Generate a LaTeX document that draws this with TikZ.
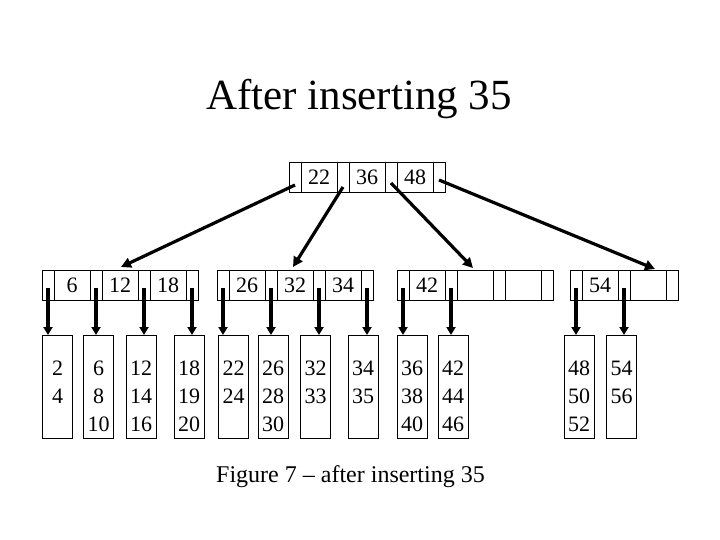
\documentclass[tikz,border=0pt]{standalone}
\usepackage{fontspec}
\setmainfont{Liberation Serif}
\usetikzlibrary{arrows.meta,calc}
\tikzset{
  ptrcell/.style={draw, line width=0.9pt, minimum width=12pt, minimum height=30pt, inner sep=0pt, outer sep=0pt},
  keycell/.style={draw, line width=0.9pt, minimum width=36pt, minimum height=30pt, inner sep=0pt, outer sep=0pt, font=\fontsize{22}{26}\selectfont},
  leafbox/.style={draw, line width=0.9pt, minimum width=30pt, minimum height=103pt, inner sep=0pt, outer sep=0pt},
  leaftext/.style={align=center, inner sep=0pt, anchor=north, font=\fontsize{22}{27.8}\selectfont},
  treearrow/.style={line width=3.2pt, -{Triangle[length=10pt,width=10pt]}},
  downarrow/.style={line width=3.5pt, -{Triangle[length=8pt,width=9pt]}},
}
\newcommand\btreenode[4]{%
  \foreach \cellkey [count=\cellidx] in {#4} {
    \node[ptrcell] (#1p\cellidx) at ({#2+(\cellidx-1)*48+6}, #3) {};
    \node[keycell] (#1k\cellidx) at ({#2+(\cellidx-1)*48+30}, #3) {\cellkey};
    \pgfmathtruncatemacro\nextidx{\cellidx+1}
    \node[ptrcell] (#1p\nextidx) at ({#2+\cellidx*48+6}, #3) {};
  }%
}
\newcommand\btleaf[3]{%
  \node[leafbox] (#1) at (#2, 386.5) {};
  \node[leaftext] (#1t) at (#2, 361) {#3};
}
\begin{document}
\begin{tikzpicture}[x=1pt, y=-1pt]
\fill[white] (0,0) rectangle (720,540);
\useasboundingbox (0,0) rectangle (720,540);

\node[anchor=base, inner sep=0pt, font=\fontsize{43}{50}\selectfont] (title) at (359,110) {After inserting 35};

% root
\btreenode{r}{289}{177}{22,36,48}
% level 1
\btreenode{a}{42}{285}{6,12,18}
\btreenode{b}{217}{285}{26,32,34}
\btreenode{c}{397}{285}{42,{},{}}
\btreenode{d}{570}{285}{54,{}}

% leaves
\btleaf{l1}{57.5}{2\\4}
\btleaf{l2}{98.5}{6\\8\\10}
\btleaf{l3}{141}{12\\14\\16}
\btleaf{l4}{189}{18\\19\\20}
\btleaf{l5}{233.5}{22\\24}
\btleaf{l6}{273}{26\\28\\30}
\btleaf{l7}{315.5}{32\\33}
\btleaf{l8}{363}{34\\35}
\btleaf{l9}{412}{36\\38\\40}
\btleaf{l10}{453}{42\\44\\46}
\btleaf{l11}{579}{48\\50\\52}
\btleaf{l12}{621.5}{54\\56}

% arrow ends from root
\coordinate (e1) at (121,267);
\coordinate (e2) at (293,267);
\coordinate (e3) at (473,268);
\coordinate (e4) at (655,269);
\draw[treearrow] ([yshift=-8pt]rp1.center) -- (e1);
\draw[treearrow] ([yshift=-10pt]rp2.center) -- (e2);
\draw[treearrow] ([yshift=-6pt]rp3.center) -- (e3);
\draw[treearrow] ([yshift=-3pt]rp4.center) -- (e4);

% down arrows to leaves
\draw[downarrow] ([yshift=-3pt]ap1.center) -- (ap1 |- l1.north);
\draw[downarrow] ([yshift=-3pt]ap2.center) -- (ap2 |- l2.north);
\draw[downarrow] ([yshift=-3pt]ap3.center) -- (ap3 |- l3.north);
\draw[downarrow] ([yshift=-3pt]ap4.center) -- (ap4 |- l4.north);
\draw[downarrow] ([yshift=-3pt]bp1.center) -- (bp1 |- l5.north);
\draw[downarrow] ([yshift=-3pt]bp2.center) -- (bp2 |- l6.north);
\draw[downarrow] ([yshift=-3pt]bp3.center) -- (bp3 |- l7.north);
\draw[downarrow] ([yshift=-3pt]bp4.center) -- (bp4 |- l8.north);
\draw[downarrow] ([yshift=-3pt]cp1.center) -- (cp1 |- l9.north);
\draw[downarrow] ([yshift=-3pt]cp2.center) -- (cp2 |- l10.north);
\draw[downarrow] ([yshift=-3pt]dp1.center) -- (dp1 |- l11.north);
\draw[downarrow] ([yshift=-3pt]dp2.center) -- (dp2 |- l12.north);

\node[anchor=base, inner sep=0pt, font=\fontsize{24}{28}\selectfont] (caption) at (350.5,482) {Figure 7 – after inserting 35};
\end{tikzpicture}
\end{document}
